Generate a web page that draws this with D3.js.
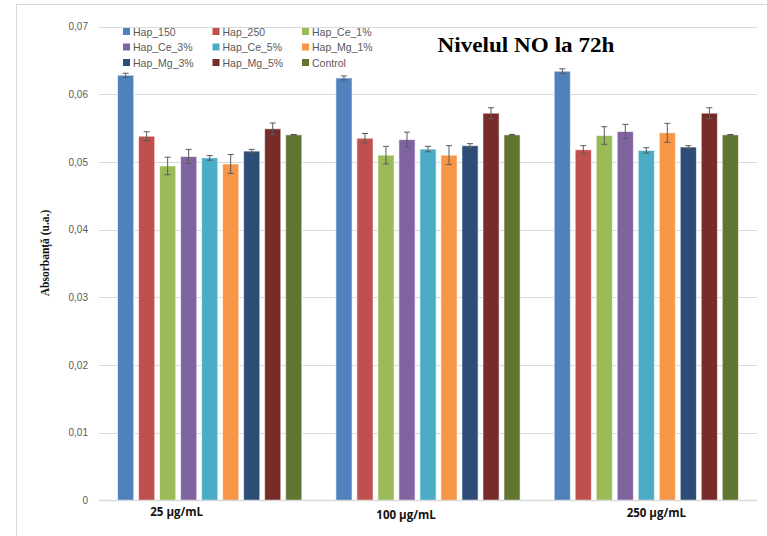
<!DOCTYPE html>
<html>
<head>
<meta charset="utf-8">
<script src="https://cdn.jsdelivr.net/npm/d3@7"></script>
<style>
  html, body { margin: 0; padding: 0; background: #fff; }
  svg { display: block; }
</style>
</head>
<body>
<svg id="chart" width="767" height="536"></svg>
<script>
// Concentration groups along the x axis
const categories = ["25 µg/mL", "100 µg/mL", "250 µg/mL"];

// Sample series (legend order)
const seriesNames = ["Hap_150", "Hap_250", "Hap_Ce_1%", "Hap_Ce_3%", "Hap_Ce_5%",
                     "Hap_Mg_1%", "Hap_Mg_3%", "Hap_Mg_5%", "Control"];

// Mean absorbance per series, one value per concentration group
const hap150   = [0.0628, 0.0624, 0.0634];
const hap250   = [0.0538, 0.0535, 0.0518];
const hapCe1   = [0.0494, 0.0510, 0.0539];
const hapCe3   = [0.0508, 0.0533, 0.0545];
const hapCe5   = [0.0506, 0.0519, 0.0517];
const hapMg1   = [0.0497, 0.0510, 0.0543];
const hapMg3   = [0.0516, 0.0524, 0.0522];
const hapMg5   = [0.0549, 0.0572, 0.0572];
const control  = [0.0540, 0.0540, 0.0540];

// Standard deviation for each mean
const hap150Err  = [0.0003, 0.0003, 0.00035];
const hap250Err  = [0.00066, 0.0007, 0.0006];
const hapCe1Err  = [0.0013, 0.0013, 0.0013];
const hapCe3Err  = [0.00105, 0.0011, 0.00105];
const hapCe5Err  = [0.00035, 0.0004, 0.0004];
const hapMg1Err  = [0.0014, 0.0014, 0.0014];
const hapMg3Err  = [0.00025, 0.0003, 0.0002];
const hapMg5Err  = [0.00085, 0.0008, 0.0008];
const controlErr = [0.00005, 0.00005, 0.00005];

const yTicks = [0, 0.01, 0.02, 0.03, 0.04, 0.05, 0.06, 0.07];

const values = [hap150, hap250, hapCe1, hapCe3, hapCe5, hapMg1, hapMg3, hapMg5, control];
const errors = [hap150Err, hap250Err, hapCe1Err, hapCe3Err, hapCe5Err, hapMg1Err, hapMg3Err, hapMg5Err, controlErr];

const colors = ["#4F81BD", "#C0504D", "#9BBB59", "#8064A2", "#4BACC6",
                "#F79646", "#2C4D75", "#772C2A", "#5F7530"];

const svg = d3.select("#chart");

// Outer chart frame (runs off the right and bottom edges)
svg.append("rect")
  .attr("x", 16.5).attr("y", 4.5)
  .attr("width", 800).attr("height", 600)
  .attr("fill", "none").attr("stroke", "#d9d9d9").attr("stroke-width", 1);

const plot = { left: 99, right: 757, top: 26.5, bottom: 500.5 };

const y = d3.scaleLinear().domain([0, 0.07]).range([plot.bottom, plot.top]);

const x0 = d3.scaleBand()
  .domain(categories)
  .range([plot.left, plot.right])
  .paddingInner(0.156)
  .paddingOuter(0.085);

const x1 = d3.scaleBand()
  .domain(seriesNames)
  .range([0, x0.bandwidth()])
  .paddingInner(0.23)
  .paddingOuter(0);

// Horizontal gridlines
svg.append("g")
  .selectAll("line")
  .data(yTicks.filter(d => d > 0))
  .join("line")
  .attr("x1", plot.left).attr("x2", plot.right)
  .attr("y1", d => Math.round(y(d)) + 0.5).attr("y2", d => Math.round(y(d)) + 0.5)
  .attr("stroke", "#d9d9d9").attr("stroke-width", 1);

// Y axis tick labels
const yAxis = d3.axisLeft(y)
  .tickValues(yTicks)
  .tickSize(0)
  .tickPadding(11)
  .tickFormat(d => d === 0 ? "0" : d3.format(".2f")(d).replace(".", ","));

const yg = svg.append("g")
  .attr("transform", `translate(${plot.left},0)`)
  .call(yAxis);
yg.select(".domain").remove();
yg.selectAll("text")
  .attr("fill", "#595959")
  .style("font-family", "'Liberation Sans', Arial, sans-serif")
  .style("font-size", "10px");

// Bars
const groups = svg.append("g")
  .selectAll("g")
  .data(categories)
  .join("g")
  .attr("transform", d => `translate(${x0(d)},0)`);

groups.each(function(cat, ci) {
  const g = d3.select(this);
  const rows = seriesNames.map((s, si) => ({
    s, si, v: values[si][ci], e: errors[si][ci]
  }));

  g.selectAll("rect")
    .data(rows)
    .join("rect")
    .attr("x", d => x1(d.s))
    .attr("y", d => y(d.v))
    .attr("width", x1.bandwidth())
    .attr("height", d => y(0) - y(d.v))
    .attr("fill", d => colors[d.si])
    .attr("stroke", "#ffffff")
    .attr("stroke-opacity", 0.6)
    .attr("stroke-width", 1);

  // Error bars
  const eb = g.selectAll("g.err")
    .data(rows)
    .join("g")
    .attr("class", "err")
    .attr("stroke", "#5a5a5a")
    .attr("stroke-width", 1);
  eb.append("line")
    .attr("x1", d => x1(d.s) + x1.bandwidth() / 2)
    .attr("x2", d => x1(d.s) + x1.bandwidth() / 2)
    .attr("y1", d => y(d.v + d.e))
    .attr("y2", d => y(d.v - d.e));
  eb.append("line")
    .attr("x1", d => x1(d.s) + x1.bandwidth() / 2 - 3)
    .attr("x2", d => x1(d.s) + x1.bandwidth() / 2 + 3)
    .attr("y1", d => y(d.v + d.e))
    .attr("y2", d => y(d.v + d.e));
  eb.append("line")
    .attr("x1", d => x1(d.s) + x1.bandwidth() / 2 - 3)
    .attr("x2", d => x1(d.s) + x1.bandwidth() / 2 + 3)
    .attr("y1", d => y(d.v - d.e))
    .attr("y2", d => y(d.v - d.e));
});

// Baseline
svg.append("line")
  .attr("x1", plot.left).attr("x2", plot.right)
  .attr("y1", y(0)).attr("y2", y(0))
  .attr("stroke", "#d9d9d9").attr("stroke-width", 1.5);

// Category labels (placed individually below each group)
const labelShift = [-33, -22, 10];
const labelBase = [516, 519, 517];
svg.append("g")
  .selectAll("text")
  .data(categories)
  .join("text")
  .attr("x", (d, i) => x0(d) + x0.bandwidth() / 2 + labelShift[i])
  .attr("y", (d, i) => labelBase[i])
  .attr("text-anchor", "middle")
  .attr("fill", "#111")
  .style("font-family", "'Open Sans', 'Liberation Sans', sans-serif")
  .style("font-weight", "700")
  .style("font-size", "11.5px")
  .text(d => d);

// Y axis title
svg.append("text")
  .attr("transform", "translate(49,253) rotate(-90)")
  .attr("text-anchor", "middle")
  .attr("fill", "#111")
  .style("font-family", "'Liberation Serif', 'Times New Roman', serif")
  .style("font-weight", "bold")
  .style("font-size", "11.5px")
  .text("Absorbanță (u.a.)");

// Chart title
svg.append("text")
  .attr("x", 526).attr("y", 52)
  .attr("text-anchor", "middle")
  .attr("fill", "#000")
  .style("font-family", "'Liberation Serif', 'Times New Roman', serif")
  .style("font-weight", "bold")
  .style("font-size", "22px")
  .attr("textLength", 177)
  .attr("lengthAdjust", "spacingAndGlyphs")
  .text("Nivelul NO la 72h");

// Legend: 3 columns x 3 rows
const legend = svg.append("g")
  .selectAll("g")
  .data(seriesNames)
  .join("g")
  .attr("transform", (d, i) => `translate(${123 + (i % 3) * 89.5},${32 + Math.floor(i / 3) * 15.5})`);
legend.append("rect")
  .attr("x", 0).attr("y", -4)
  .attr("width", 7).attr("height", 7)
  .attr("fill", (d, i) => colors[i]);
legend.append("text")
  .attr("x", 10).attr("y", 3.5)
  .attr("fill", "#595959")
  .style("font-family", "'Liberation Sans', Arial, sans-serif")
  .style("font-size", "10.5px")
  .text(d => d);
</script>
</body>
</html>
